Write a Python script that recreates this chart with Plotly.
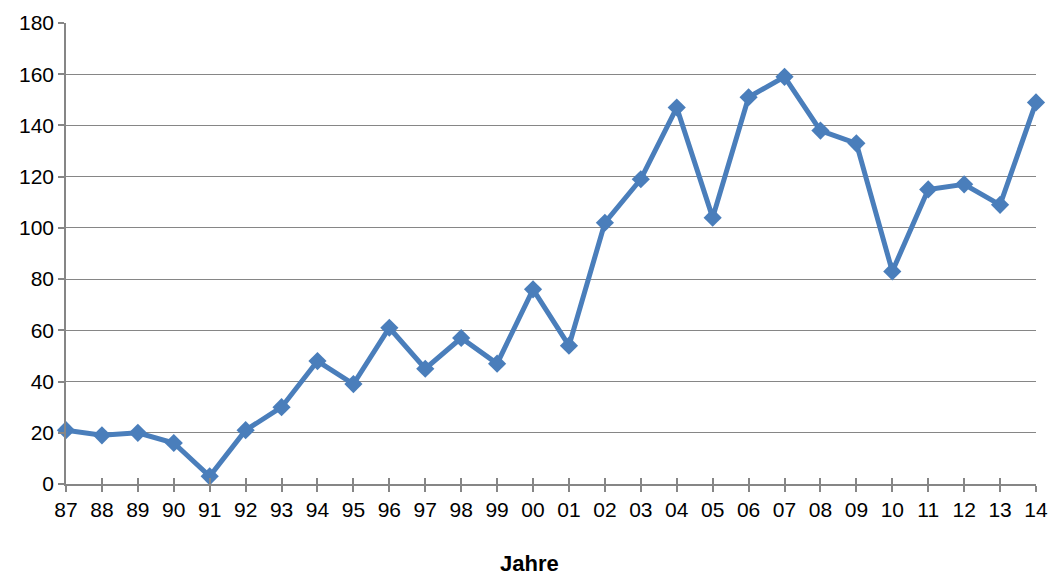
import plotly.graph_objects as go

years = ['87', '88', '89', '90', '91', '92', '93', '94', '95', '96', '97', '98', '99', '00',
         '01', '02', '03', '04', '05', '06', '07', '08', '09', '10', '11', '12', '13', '14']
values = [21, 19, 20, 16, 3, 21, 30, 48, 39, 61, 45, 57, 47, 76,
          54, 102, 119, 147, 104, 151, 159, 138, 133, 83, 115, 117, 109, 149]
y_ticks = [0, 20, 40, 60, 80, 100, 120, 140, 160, 180]

fig = go.Figure()

fig.add_trace(go.Scatter(
    x=years,
    y=values,
    mode='lines+markers',
    line=dict(color='#4A7EBB', width=5),
    marker=dict(symbol='diamond', size=14, color='#4A7EBB'),
    cliponaxis=False,
    showlegend=False
))

# invisible trace on second x axis so inside ticks show (ticks cross the axis)
fig.add_trace(go.Scatter(x=years, y=values, xaxis='x2', mode='none',
                         showlegend=False, hoverinfo='skip'))

axis_grey = '#868686'
fig.update_layout(
    width=1050,
    height=577,
    margin=dict(l=66, r=14, t=23, b=93),
    paper_bgcolor='white',
    plot_bgcolor='white',
    font=dict(family='Liberation Sans, Arial, sans-serif', size=21, color='black'),
    xaxis=dict(
        type='category',
        range=[0, len(years) - 1],
        automargin=False,
        showgrid=False,
        showline=True, linecolor=axis_grey, linewidth=1.5,
        ticks='outside', ticklen=6, tickcolor=axis_grey, tickwidth=1.5,
        tickfont=dict(size=21),
    ),
    xaxis2=dict(
        type='category',
        overlaying='x',
        range=[0, len(years) - 1],
        side='bottom',
        anchor='y',
        automargin=False,
        showgrid=False, showline=False,
        ticks='inside', ticklen=6, tickcolor=axis_grey, tickwidth=1.5,
        showticklabels=False,
    ),
    yaxis=dict(
        range=[0, 180],
        tickvals=y_ticks,
        automargin=False,
        showgrid=True, gridcolor=axis_grey, gridwidth=1.2,
        showline=True, linecolor=axis_grey, linewidth=1.5,
        ticks='outside', ticklen=6, tickcolor=axis_grey, tickwidth=1.5,
        tickfont=dict(size=21),
        zeroline=False,
    ),
)

# axis title sits a little left of the plot centre in the reference
fig.add_annotation(
    text='<b>Jahre</b>', xref='paper', yref='paper',
    x=0.478, y=-0.172, xanchor='center', yanchor='middle',
    showarrow=False, font=dict(size=22)
)

# drop the default body margin so the fixed-size figure fills the window without scrollbars
fig.write_html('out.html',
               config={'displayModeBar': False},
               post_script="document.body.style.margin='0';document.body.style.overflow='hidden';")
